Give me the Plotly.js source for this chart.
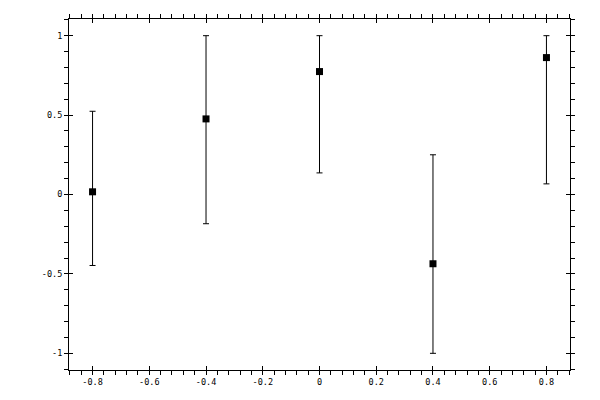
<!DOCTYPE html>
<html>
<head>
<meta charset="utf-8">
<script src="https://cdn.plot.ly/plotly-3.0.1.min.js"></script>
<style>html,body{margin:0;padding:0;background:#fff;}#chart{width:600px;height:400px;}</style>
</head>
<body>
<div id="chart"></div>
<script>
var xValues = [-0.8, -0.4, 0.0, 0.4, 0.8];
var yValues = [0.017, 0.476, 0.774, -0.436, 0.862];
var errPlus = [0.507, 0.524, 0.226, 0.686, 0.138];
var errMinus = [0.464, 0.660, 0.638, 0.564, 0.795];
var xTickVals = [-0.8, -0.6, -0.4, -0.2, 0, 0.2, 0.4, 0.6, 0.8];
var xTickText = ['-0.8', '-0.6', '-0.4', '-0.2', '0', '0.2', '0.4', '0.6', '0.8'];
var yTickVals = [-1, -0.5, 0, 0.5, 1];
var yTickText = ['-1', '-0.5', '0', '0.5', '1'];

var xRange = [-0.883, 0.883];
var yRange = [-1.105, 1.105];
var font = {family: 'DejaVu Sans Mono, monospace', size: 8.5, color: '#000'};

var trace = {
  x: xValues, y: yValues, type: 'scatter', mode: 'markers',
  marker: {symbol: 'square', size: 7, color: '#000'},
  error_y: {type: 'data', symmetric: false, array: errPlus, arrayminus: errMinus,
            color: '#000', thickness: 1, width: 3},
  showlegend: false, hoverinfo: 'none'
};
var ghost = {x: [xValues[0]], y: [yValues[0]], xaxis: 'x2', yaxis: 'y2', type: 'scatter', mode: 'markers',
  marker: {opacity: 0}, showlegend: false, hoverinfo: 'none'};

var layout = {
  width: 600, height: 400,
  margin: {l: 69, r: 30, t: 19, b: 30},
  paper_bgcolor: '#fff', plot_bgcolor: '#fff',
  font: font,
  xaxis: {range: xRange, tickmode: 'array', tickvals: xTickVals, ticktext: xTickText,
    ticks: 'outside', ticklen: 4, tickwidth: 1, tickcolor: '#000',
    showline: true, linecolor: '#000', linewidth: 1, mirror: 'ticks',
    showgrid: false, zeroline: false, tickfont: font,
    minor: {dtick: 0.04, tick0: 0, ticks: 'outside', ticklen: 4, tickwidth: 1, tickcolor: '#000', showgrid: false}},
  yaxis: {range: yRange, tickmode: 'array', tickvals: yTickVals, ticktext: yTickText,
    ticks: 'outside', ticklen: 4, tickwidth: 1, tickcolor: '#000',
    showline: true, linecolor: '#000', linewidth: 1, mirror: 'ticks',
    showgrid: false, zeroline: false, tickfont: font,
    minor: {dtick: 0.1, tick0: 0, ticks: 'outside', ticklen: 4, tickwidth: 1, tickcolor: '#000', showgrid: false}},
  xaxis2: {range: xRange, overlaying: 'x', tickmode: 'array', tickvals: xTickVals,
    ticks: 'inside', ticklen: 4, tickwidth: 1, tickcolor: '#000', mirror: 'ticks',
    showline: false, showgrid: false, zeroline: false, showticklabels: false},
  yaxis2: {range: yRange, overlaying: 'y', tickmode: 'array', tickvals: yTickVals,
    ticks: 'inside', ticklen: 4, tickwidth: 1, tickcolor: '#000', mirror: 'ticks',
    showline: false, showgrid: false, zeroline: false, showticklabels: false}
};
Plotly.newPlot('chart', [trace, ghost], layout, {staticPlot: true});
</script>
</body>
</html>
